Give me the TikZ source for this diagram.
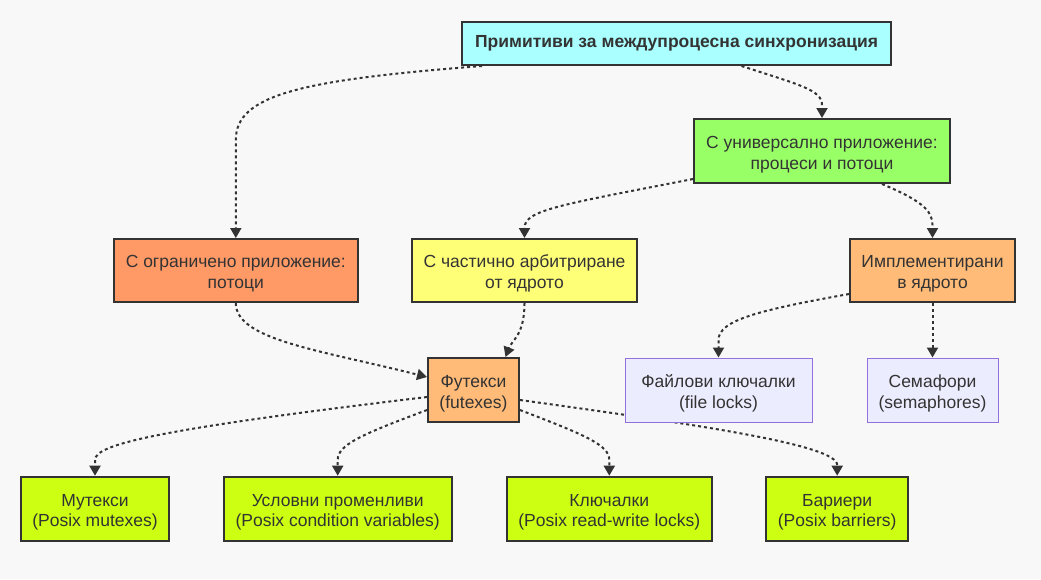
\documentclass[tikz,border=0pt]{standalone}
\usepackage{fontspec}
\setmainfont{Liberation Sans}
\usetikzlibrary{arrows.meta,calc}
\definecolor{bgc}{HTML}{F8F8F8}
\definecolor{txt}{HTML}{333333}
\definecolor{cRoot}{HTML}{AAFFFF}
\definecolor{cUniv}{HTML}{99FF66}
\definecolor{cLim}{HTML}{FF9966}
\definecolor{cPart}{HTML}{FFFF77}
\definecolor{cKern}{HTML}{FFBB77}
\definecolor{cLeaf}{HTML}{CCFF11}
\definecolor{cDef}{HTML}{ECECFF}
\definecolor{cDefB}{HTML}{9370DB}
\newcommand\TopStrut{\rule{0pt}{19pt}}
\pgfdeclarelayer{back}
\pgfdeclarelayer{edges}
\pgfsetlayers{back,edges,main}
\tikzset{
  box/.style={draw=txt, line width=2pt, text=txt, align=center, inner sep=0pt,
    minimum height=64pt, font=\fontsize{17.5}{20.7}\selectfont},
  defbox/.style={box, draw=cDefB, line width=1pt, fill=cDef},
  link/.style={draw=txt, line width=2pt, dash pattern=on 3pt off 3pt,
    -{Triangle[length=10pt,width=11pt]}}
}
\begin{document}
\begin{tikzpicture}[x=1pt,y=-1pt]
\begin{pgfonlayer}{back}
\fill[bgc] (0,0) rectangle (1041,579);
\end{pgfonlayer}
\useasboundingbox (0,0) rectangle (1041,579);

\node[box, fill=cRoot, minimum width=429pt, minimum height=43pt, font=\fontsize{17.5}{20.7}\selectfont\bfseries] (root) at (676.5,43.5) {Примитиви за междупроцесна синхронизация};
\node[box, fill=cUniv, minimum width=256pt] (univ) at (822,151) {\TopStrut С универсално приложение:\\процеси и потоци};
\node[box, fill=cLim, minimum width=244pt, minimum height=63pt] (lim) at (235.8,270.5) {\TopStrut С ограничено приложение:\\потоци};
\node[box, fill=cPart, minimum width=225pt, minimum height=63pt] (part) at (524.5,270.5) {\TopStrut С частично арбитриране\\от ядрото};
\node[box, fill=cKern, minimum width=165pt, minimum height=63pt] (kern) at (932.5,270.5) {\TopStrut Имплементирани\\в ядрото};
\node[box, fill=cKern, minimum width=91pt] (futex) at (473.5,390) {\TopStrut Футекси\\(futexes)};
\node[defbox, minimum width=187pt] (flock) at (718.5,390) {\TopStrut Файлови ключалки\\(file locks)};
\node[defbox, minimum width=131pt] (sem) at (932.5,390) {\TopStrut Семафори\\(semaphores)};
\node[box, fill=cLeaf, minimum width=148.6pt] (mutex) at (95,508.7) {\TopStrut Мутекси\\(Posix mutexes)};
\node[box, fill=cLeaf, minimum width=228pt] (cond) at (337.7,508.7) {\TopStrut Условни променливи\\(Posix condition variables)};
\node[box, fill=cLeaf, minimum width=205.3pt] (rw) at (609.3,508.7) {\TopStrut Ключалки\\(Posix read-write locks)};
\node[box, fill=cLeaf, minimum width=142.3pt] (bar) at (837.2,508.7) {\TopStrut Бариери\\(Posix barriers)};

\begin{pgfonlayer}{edges}
\draw[link] ($(root.south)+(65,0)$) .. controls (800,85) and (822,90) .. (822,105) -- (univ.north);
\draw[link] ($(root.south west)+(21,0)$) .. controls (300,80) and (235.8,95) .. (235.8,140) -- (lim.north);
\draw[link] ($(univ.south west)+(0,-5)$) .. controls (560,205) and (524.5,210) .. (524.5,228) -- (part.north);
\draw[link] ($(univ.south)+(60,0)$) .. controls (920,200) and (932.5,210) .. (932.5,225) -- (kern.north);
\draw[link] (lim.south) .. controls (235.8,340) and (320,350) .. ($(futex.west)+(0,-13)$);
\draw[link] (part.south) .. controls (524.5,335) and (512,340) .. ($(futex.north)+(32,0)$);
\draw[link] ($(kern.south west)+(0,-9)$) .. controls (760,310) and (718.5,320) .. (718.5,340) -- (flock.north);
\draw[link] (kern.south) -- (sem.north);
\draw[link] ($(futex.west)+(0,7)$) .. controls (150,430) and (95,445) .. (95,460) -- (mutex.north);
\draw[link] ($(futex.west)+(0,20)$) .. controls (360,435) and (337.7,445) .. (337.7,460) -- (cond.north);
\draw[link] ($(futex.east)+(0,20)$) .. controls (585,435) and (609.3,445) .. (609.3,460) -- (rw.north);
\draw[link] ($(futex.east)+(0,10)$) .. controls (700,425) and (837.2,445) .. (837.2,465) -- (bar.north);
\end{pgfonlayer}
\end{tikzpicture}
\end{document}
